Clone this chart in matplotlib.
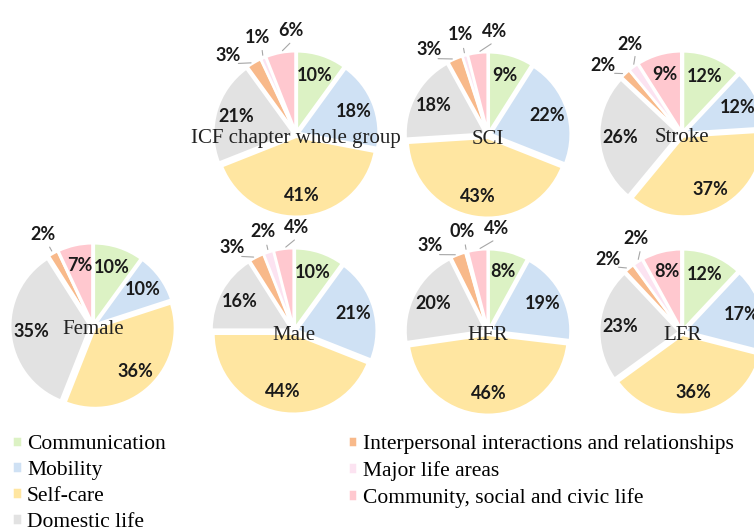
import numpy as np
import matplotlib
matplotlib.use('Agg')
from matplotlib import pyplot as plt

# ICF chapters (legend order)
categories = ['Communication', 'Mobility', 'Self-care', 'Domestic life',
              'Interpersonal interactions and relationships',
              'Major life areas', 'Community, social and civic life']
colors = ['#DCF2C4', '#CFE1F4', '#FFE6A1', '#E2E2E2',
          '#F8B98A', '#FCE3F1', '#FFC8CF']

# percentage per group, same order as categories
whole = [10, 18, 41, 21, 3, 1, 6]
sci = [9, 22, 43, 18, 3, 1, 4]
stroke = [12, 12, 37, 26, 2, 2, 9]
female = [10, 10, 36, 35, 2, 0, 7]
male = [10, 21, 44, 16, 3, 2, 4]
hfr = [8, 19, 46, 20, 3, 0.4, 4]
lfr = [12, 17, 36, 23, 2, 2, 8]

titles = ['ICF chapter whole group', 'SCI', 'Stroke', 'Female', 'Male', 'HFR', 'LFR']
data = [whole, sci, stroke, female, male, hfr, lfr]

# pie centres in pixels (from top-left), radius 80 px
centres = [(296, 134), (488, 135), (682, 134),
           (93, 326), (294, 331), (488, 332), (682, 332)]

W, H = 754, 530
R_PX = 80
LIM = 1.25

fig = plt.figure(figsize=(W / 100, H / 100), dpi=100)

label_font = dict(family='Lato', weight='bold', size=13, color='#1a1a1a')

wedges_for_legend = None
for title, vals, (cx, cy) in zip(titles, data, centres):
    size = 2 * LIM * R_PX
    ax = fig.add_axes([(cx - size / 2) / W, (H - cy - size / 2) / H, size / W, size / H])
    ax.set_xlim(-LIM, LIM)
    ax.set_ylim(-LIM, LIM)
    ax.set_aspect('equal')
    ax.axis('off')

    wedges, _ = ax.pie(vals, colors=colors, startangle=90, counterclock=False,
                       explode=[0.035] * len(vals),
                       wedgeprops=dict(edgecolor='white', linewidth=1.8))
    if wedges_for_legend is None:
        wedges_for_legend = wedges

    small = []
    for w, v in zip(wedges, vals):
        mid = np.deg2rad((w.theta1 + w.theta2) / 2)
        x0, y0 = w.center
        if v >= 7:
            ax.text(x0 + 0.74 * np.cos(mid), y0 + 0.74 * np.sin(mid),
                    f'{round(v)}%', ha='center', va='center', **label_font)
        elif v > 0:
            small.append((w, v))

    # outside labels for small slices, spread around their mean angle
    if small:
        mids = [(w.theta1 + w.theta2) / 2 for w, v in small]
        mean = np.mean(mids)
        n = len(small)
        for i, (w, v) in enumerate(small):
            la = np.deg2rad(mean - (i - (n - 1) / 2) * 19)
            ma = np.deg2rad((w.theta1 + w.theta2) / 2)
            x0, y0 = w.center
            tx, ty = 1.3 * np.cos(la), 1.3 * np.sin(la)
            ax.annotate('', xy=(x0 + 1.0 * np.cos(ma), y0 + 1.0 * np.sin(ma)),
                        xytext=(1.16 * np.cos(la), 1.16 * np.sin(la)),
                        arrowprops=dict(arrowstyle='-', color='#A6A6A6', lw=0.8),
                        annotation_clip=False)
            ax.text(tx, ty, f'{round(v)}%', ha='center', va='center', **label_font)

    ax.text(0, -0.05, title, ha='center', va='center', family='Liberation Serif',
            size=15, color='#222222')

fig.legend(wedges_for_legend, categories, ncol=2, loc='upper left',
           bbox_to_anchor=(12 / W, 1 - 435 / H), frameon=False,
           prop=dict(family='Liberation Serif', size=15.5),
           handlelength=0.45, handleheight=0.45, handletextpad=0.25,
           labelspacing=0.32, columnspacing=8.45, borderpad=0, borderaxespad=0)

fig.savefig('out.png', dpi=100)
